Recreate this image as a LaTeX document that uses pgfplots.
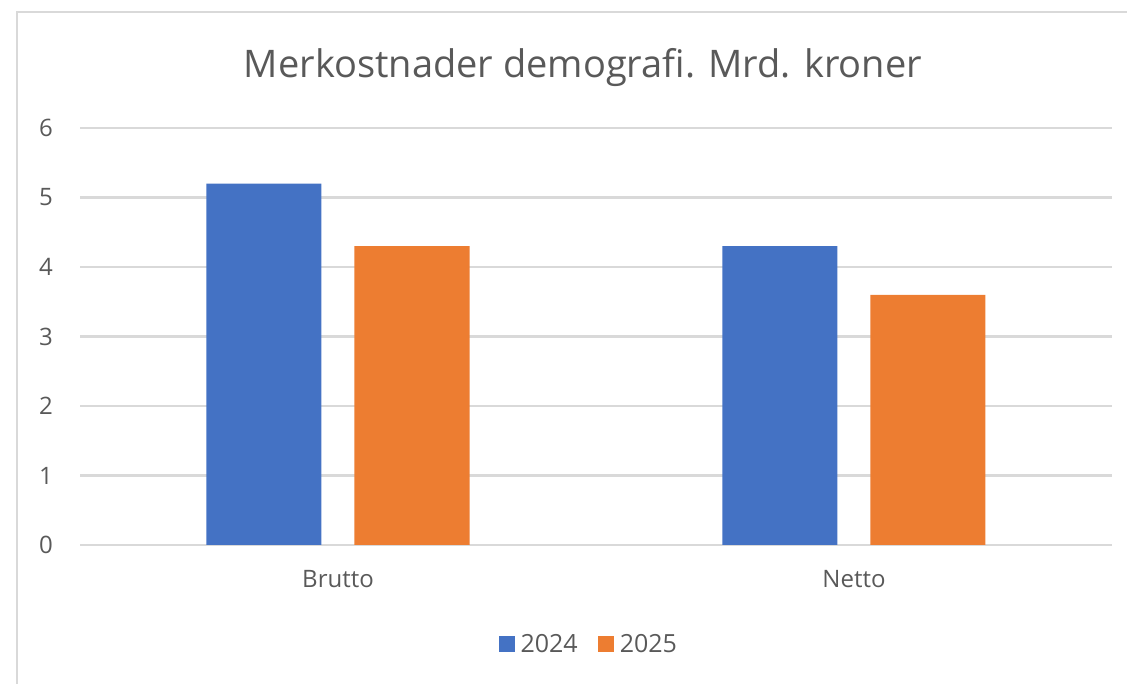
\documentclass[border=0pt]{standalone}
\usepackage{pgfplots}
\pgfplotsset{compat=1.18}
\usepackage{fontspec}
\setmainfont{Open Sans}
\definecolor{barblue}{HTML}{4472C4}
\definecolor{barorange}{HTML}{ED7D31}
\definecolor{gridgray}{HTML}{D9D9D9}
\definecolor{txtgray}{HTML}{595959}
\definecolor{bordergray}{HTML}{D9D9D9}
\begin{document}
\begin{tikzpicture}[x=1pt,y=1pt]
\useasboundingbox (0,0) rectangle (1127,684);
\draw[line width=2.3pt, color=bordergray] (17,-2) -- (17,672) -- (1130,672);
\begin{axis}[
  at={(80pt,139pt)}, anchor=south west,
  scale only axis, width=1032pt, height=417pt,
  ymin=0, ymax=6, xmin=-0.5, xmax=1.5,
  ytick={0,1,2,3,4,5,6},
  xtick={0,1}, xticklabels={Brutto,Netto},
  major tick length=0pt,
  axis line style={draw=none},
  ymajorgrids, grid style={color=gridgray, line width=2.2pt},
  ybar, bar width=115pt,
  tick label style={font=\fontsize{24}{28}\selectfont, text=txtgray, inner sep=0pt},
  /pgf/number format/assume math mode=true,
  yticklabel style={anchor=east, xshift=-27pt},
  xticklabel style={anchor=north, yshift=-25pt},
  title={Merkostnader demografi. Mrd. kroner},
  title style={at={(0.4874,1)}, anchor=base, yshift=44pt, font=\fontsize{38}{42}\selectfont, text=txtgray, inner sep=0pt},
  legend columns=2,
  legend image code/.code={\fill[#1] (0pt,-8pt) rectangle (16pt,8pt); \path (20pt,0pt);},
  legend style={draw=none, fill=none, at={(0.493,-0.237)}, anchor=center,
    font=\fontsize{25}{28}\selectfont, text=txtgray,
    /tikz/every even column/.append style={column sep=18pt}},
]
\addplot[fill=barblue, draw=none, bar shift=-74pt] coordinates {(0,5.2) (1,4.3)};
\addplot[fill=barorange, draw=none, bar shift=74pt] coordinates {(0,4.3) (1,3.6)};
\legend{2024,2025}
\end{axis}
\end{tikzpicture}
\end{document}
